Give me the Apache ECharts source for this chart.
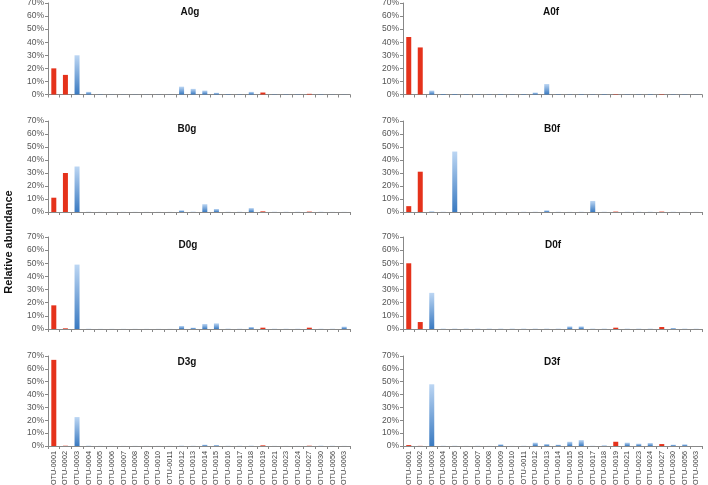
<!DOCTYPE html>
<html><head><meta charset="utf-8">
<script src="https://cdn.jsdelivr.net/npm/echarts@6/dist/echarts.min.js"></script>
<style>html,body{margin:0;padding:0;background:#fff}#c{width:708px;height:485px}</style>
</head><body><div id="c"></div>
<script>
const categories = ["OTU-0001","OTU-0002","OTU-0003","OTU-0004","OTU-0005","OTU-0006","OTU-0007","OTU-0008","OTU-0009","OTU-0010","OTU-0011","OTU-0012","OTU-0013","OTU-0014","OTU-0015","OTU-0016","OTU-0017","OTU-0018","OTU-0019","OTU-0021","OTU-0023","OTU-0024","OTU-0027","OTU-0030","OTU-0056","OTU-0063"];
const redCategories = ["OTU-0001","OTU-0002","OTU-0019","OTU-0027"];
const panelNames = ["A0g","A0f","B0g","B0f","D0g","D0f","D3g","D3f"];
const yTicks = [0,10,20,30,40,50,60,70];
const A0g = [20,15,30,2,0.2,0.1,0.1,0.1,0.1,0.1,0.1,6,4.3,3,1.3,0.3,0.2,2,1.5,0.2,0.2,0.2,0.5,0.2,0.1,0.1];
const A0f = [44,36,3,0.4,0.4,0.3,0.3,0.2,0.3,0.2,0.3,1.5,8,0.3,0.2,0.3,0.2,0.3,0.3,0.2,0.2,0.3,0.3,0.2,0.2,0.1];
const B0g = [11,30,35,0.2,0.1,0.1,0.1,0.1,0.1,0.1,0.1,1.3,0.3,6,2.3,0.2,0.2,3,0.5,0.2,0.2,0.2,0.3,0.2,0.1,0.1];
const B0f = [4.5,31,0.5,0.2,46.5,0.1,0.1,0.1,0.1,0.1,0.2,0.2,1.3,0.2,0.1,0.2,8.5,0.2,0.3,0.2,0.2,0.2,0.3,0.2,0.1,0.1];
const D0g = [18,0.5,49,0.2,0.1,0.1,0.1,0.1,0.1,0.1,0.1,2.3,1,3.8,4.3,0.3,0.2,1.5,1,0.2,0.2,0.2,1,0.2,0.2,1.8];
const D0f = [50,5.3,27.5,0.3,0.3,0.3,0.3,0.3,0.3,0.3,0.3,0.3,0.3,0.3,2,2,0.3,0.3,1,0.3,0.3,0.3,1.5,0.7,0.3,0.2];
const D3g = [67,0.2,22.5,0.3,0.1,0.1,0.1,0.1,0.1,0.1,0.1,0.3,0.2,1,0.7,0.2,0.2,0.3,0.5,0.1,0.1,0.1,0.2,0.3,0.2,0.1];
const D3f = [0.7,0.1,48,0.2,0.2,0.1,0.2,0.1,1.3,0.1,0.2,2.6,1.5,1,3.3,4.6,0.2,0.5,3.3,2.6,1.8,2.3,1.5,1,1.3,0];
const panelData = [A0g,A0f,B0g,B0f,D0g,D0f,D3g,D3f];

const colLeft = [48, 403], colWidth = [302, 299];
const rowTop = [3, 121, 237, 356], rowHeight = [91.5, 91, 92, 90];
const titlePos = [[185,2],[546,2],[182,119],[547,119],[183,235],[548,235],[182,352],[547,352]];

const blue = new echarts.graphic.LinearGradient(0,0,0,1,[{offset:0,color:'#bcd6f3'},{offset:1,color:'#3a7ac1'}]);
const red = '#e5321b';

const grids=[], xAxes=[], yAxes=[], series=[], titles=[];
panelNames.forEach((name,i)=>{
  const col = i%2, row = Math.floor(i/2);
  grids.push({left:colLeft[col], top:rowTop[row], width:colWidth[col], height:rowHeight[row], containLabel:false, outerBoundsMode:'none'});
  xAxes.push({type:'category', gridIndex:i, data:categories,
    axisLine:{lineStyle:{color:'#888',width:1}},
    axisTick:{show:true,length:3,lineStyle:{color:'#888'}},
    axisLabel:{show: row===3, rotate:90, fontSize:7.3, color:'#444', margin:5, fontFamily:'Liberation Sans'}});
  yAxes.push({type:'value', gridIndex:i, min:0, max:70, interval:10,
    axisLine:{show:true,lineStyle:{color:'#888'}},
    axisTick:{show:true,length:3,lineStyle:{color:'#888'}},
    splitLine:{show:false},
    axisLabel:{fontSize:8.5, color:'#555', margin:4, formatter:'{value}%', fontFamily:'Liberation Sans'}});
  series.push({type:'bar', xAxisIndex:i, yAxisIndex:i, barWidth:5, silent:true,
    data: panelData[i].map((v,k)=>({value:v, itemStyle:{color: redCategories.includes(categories[k]) ? red : blue}}))});
  titles.push({text:name, left:titlePos[i][0], top:titlePos[i][1], textAlign:'center',
    textStyle:{fontSize:10, fontWeight:'bold', color:'#111', fontFamily:'Liberation Sans'}});
});

const chart = echarts.init(document.getElementById('c'), null, {renderer:'canvas'});
chart.setOption({
  animation:false,
  title: titles,
  grid: grids, xAxis: xAxes, yAxis: yAxes, series: series,
  graphic:[{type:'text', x:3, y:242, rotation:Math.PI/2,
    style:{text:'Relative abundance', font:'bold 11px Liberation Sans', fill:'#111', textAlign:'center', textVerticalAlign:'top'}}]
});
</script></body></html>
